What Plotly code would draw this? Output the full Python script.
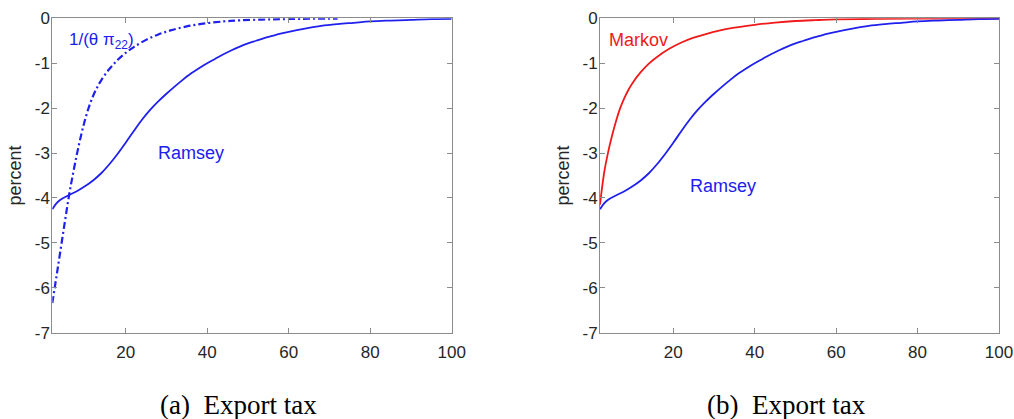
import plotly.graph_objects as go

# ---- data ----
ramsey_x = [2, 3, 4, 6, 8, 10, 12, 14, 16, 18, 20, 22, 24, 26, 28, 30, 32, 34, 36, 38,
            40, 42, 44, 46, 48, 50, 52, 54, 56, 58, 60, 64, 68, 72, 76, 80, 85, 90, 95, 100]
ramsey_y = [-4.25, -4.12, -4.04, -3.94, -3.85, -3.74, -3.61, -3.45, -3.25, -3.02, -2.77,
            -2.51, -2.26, -2.04, -1.85, -1.68, -1.52, -1.37, -1.23, -1.11, -1.00, -0.90,
            -0.80, -0.71, -0.63, -0.56, -0.50, -0.44, -0.39, -0.34, -0.30, -0.23, -0.17,
            -0.13, -0.10, -0.07, -0.05, -0.035, -0.02, -0.015]

inv_x = [2, 3, 4, 5, 6, 7, 8, 9, 10, 11, 12, 13, 14, 16, 18, 20, 22, 25, 28, 31, 35,
         39, 44, 48, 55, 63, 72]
inv_y = [-6.34, -5.76, -5.17, -4.58, -4.00, -3.50, -3.04, -2.63, -2.27, -1.97, -1.73,
         -1.54, -1.38, -1.13, -0.93, -0.77, -0.64, -0.48, -0.36, -0.27, -0.18, -0.12,
         -0.07, -0.045, -0.025, -0.012, -0.006]

markov_x = [2, 3, 4, 5, 6, 7, 8, 9, 10, 12, 14, 16, 19, 22, 25, 28, 31, 35, 40, 45, 50,
            55, 60, 70, 80, 90, 100]
markov_y = [-4.15, -3.45, -2.98, -2.60, -2.27, -1.99, -1.77, -1.59, -1.44, -1.20, -1.01,
            -0.86, -0.68, -0.54, -0.43, -0.35, -0.28, -0.21, -0.145, -0.095, -0.06,
            -0.04, -0.025, -0.012, -0.006, -0.003, -0.001]

x_ticks = [20, 40, 60, 80, 100]
y_ticks = [0, -1, -2, -3, -4, -5, -6, -7]
y_tick_text = ["0", "-1", "-2", "-3", "-4", "-5", "-6", "-7"]
captions = ["(a)\u00a0\u00a0Export tax", "(b)\u00a0\u00a0Export tax"]

BLUE = "#2020ee"
RED = "#f01a1a"
AX = "#8c8c8c"
TXT = "#262626"
SANS = "Liberation Sans, Arial, sans-serif"

fig = go.Figure()
fig.add_trace(go.Scatter(x=ramsey_x, y=ramsey_y, mode="lines", name="Ramsey",
                         line=dict(color=BLUE, width=1.8, shape="spline"),
                         xaxis="x", yaxis="y", showlegend=False))
fig.add_trace(go.Scatter(x=inv_x, y=inv_y, mode="lines", name="1/(θ π22)",
                         line=dict(color=BLUE, width=2.2, shape="spline",
                                   dash="7px,3px,2px,3px"),
                         xaxis="x", yaxis="y", showlegend=False))
fig.add_trace(go.Scatter(x=markov_x, y=markov_y, mode="lines", name="Markov",
                         line=dict(color=RED, width=1.8, shape="spline"),
                         xaxis="x2", yaxis="y2", showlegend=False))
fig.add_trace(go.Scatter(x=ramsey_x, y=ramsey_y, mode="lines", name="Ramsey",
                         line=dict(color=BLUE, width=1.8, shape="spline"),
                         xaxis="x2", yaxis="y2", showlegend=False))

W, H = 1014, 419

def fx(px):
    return px / W

def fy(py):
    return 1 - py / H

y_dom = [fy(332.7), fy(18.3)]

def xax(dom, anchor):
    return dict(domain=dom, anchor=anchor, range=[2, 100], tickvals=x_ticks,
                automargin=False, ticklabelstandoff=4,
                showgrid=False, zeroline=False, showline=True, mirror="ticks",
                linecolor=AX, linewidth=1, ticks="inside", ticklen=5,
                tickcolor=AX, tickfont=dict(family=SANS, size=17, color=TXT))

def yax(dom, anchor):
    return dict(domain=dom, anchor=anchor, range=[-7, 0], tickvals=y_ticks,
                ticktext=y_tick_text, automargin=False,
                showgrid=False, zeroline=False, showline=True, mirror="ticks",
                linecolor=AX, linewidth=1, ticks="inside", ticklen=5,
                tickcolor=AX, ticklabelstandoff=-2,
                tickfont=dict(family=SANS, size=17, color=TXT),
                title=dict(text="percent", font=dict(family=SANS, size=18, color=TXT),
                           standoff=8))

fig.update_layout(
    width=W, height=H,
    margin=dict(l=0, r=0, t=0, b=0, pad=0),
    paper_bgcolor="white", plot_bgcolor="white",
    xaxis=xax([fx(52.3), fx(451.7)], "y"),
    yaxis=yax(y_dom, "x"),
    xaxis2=xax([fx(600), fx(999)], "y2"),
    yaxis2=yax(y_dom, "x2"),
    annotations=[
        dict(x=5.6, y=-0.5, xref="x", yref="y", text="1/(θ π<sub>22</sub>)",
             showarrow=False, xanchor="left", yanchor="middle",
             font=dict(family=SANS, size=17, color=BLUE)),
        dict(x=27.5, y=-3.0, xref="x", yref="y", text="Ramsey",
             showarrow=False, xanchor="left", yanchor="middle",
             font=dict(family=SANS, size=18, color=BLUE)),
        dict(x=3.6, y=-0.48, xref="x2", yref="y2", text="Markov",
             showarrow=False, xanchor="left", yanchor="middle",
             font=dict(family=SANS, size=18, color=RED)),
        dict(x=23.6, y=-3.73, xref="x2", yref="y2", text="Ramsey",
             showarrow=False, xanchor="left", yanchor="middle",
             font=dict(family=SANS, size=18, color=BLUE)),
        dict(x=fx(238), y=fy(405), xref="paper", yref="paper", text=captions[0],
             showarrow=False, xanchor="center", yanchor="middle",
             font=dict(family="Liberation Serif, serif", size=27, color="black")),
        dict(x=fx(786), y=fy(405), xref="paper", yref="paper", text=captions[1],
             showarrow=False, xanchor="center", yanchor="middle",
             font=dict(family="Liberation Serif, serif", size=27, color="black")),
    ],
)

# the page's default 8px body margin would push the figure off the 1014x419 window
fig.write_html("out.html", config={"displayModeBar": False},
               post_script="document.body.style.margin='0px';")
